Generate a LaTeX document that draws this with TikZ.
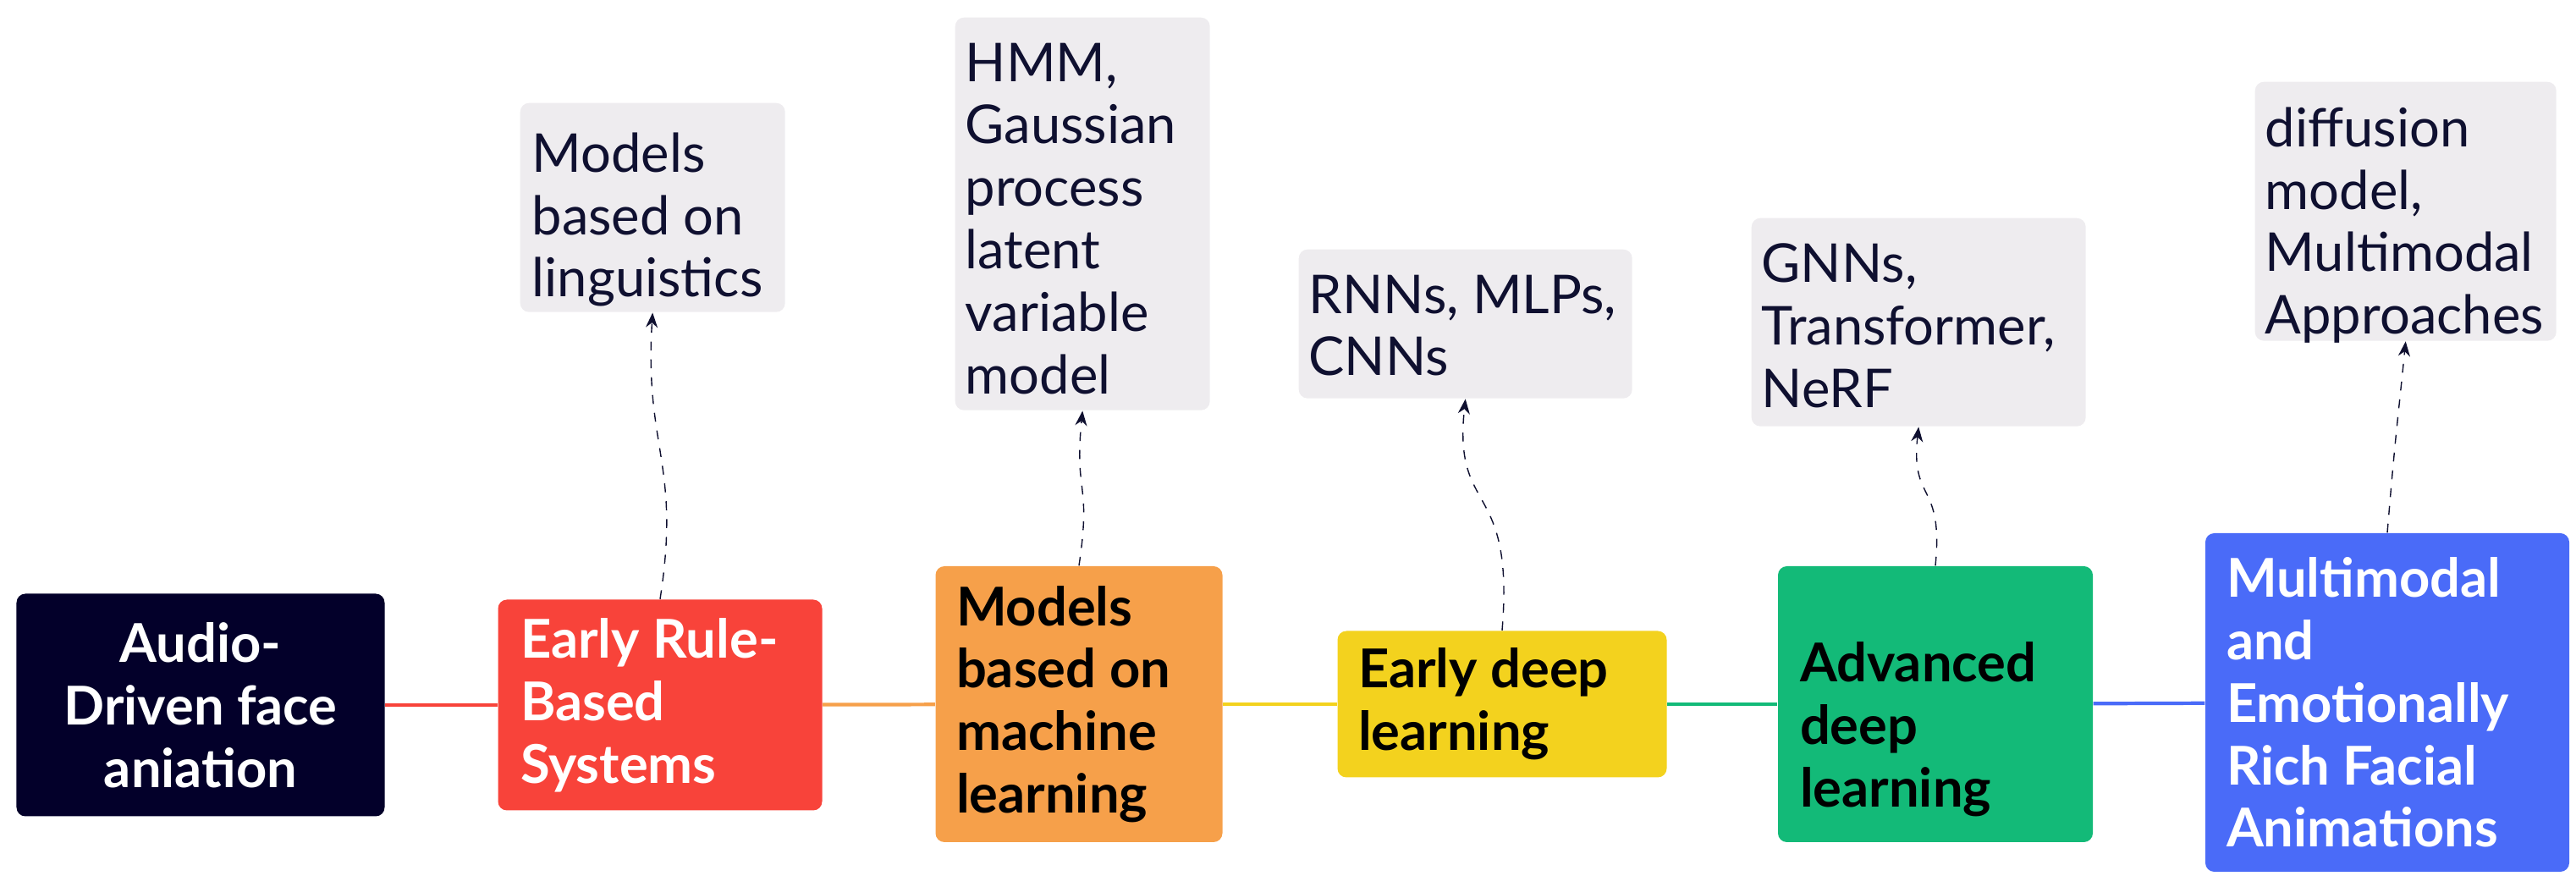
\documentclass[tikz,border=0pt]{standalone}
\usepackage{fontspec}
\setmainfont{Lato}
\usetikzlibrary{arrows.meta,positioning}
\definecolor{navy}{HTML}{03002A}
\definecolor{rulered}{HTML}{F8433A}
\definecolor{mlorange}{HTML}{F6A04A}
\definecolor{dlyellow}{HTML}{F3D21E}
\definecolor{advgreen}{HTML}{13BA78}
\definecolor{mmblue}{HTML}{4A6BF8}
\definecolor{notegray}{HTML}{EEECEF}
\definecolor{inkdark}{HTML}{0F1030}

\begin{document}
\begin{tikzpicture}[x=1cm,y=1cm,
	stage/.style={rectangle,rounded corners=3pt,align=flush left,inner sep=0pt,
		font=\fontsize{18}{21}\selectfont\bfseries},
	note/.style={rectangle,rounded corners=3pt,fill=notegray,inner sep=0pt,anchor=north west},
	notetext/.style={anchor=north west,text=inkdark,inner sep=0pt,align=flush left,
		font=\fontsize{18}{21}\selectfont},
	link/.style={line width=1.2pt},
	hint/.style={-{Stealth[length=5pt,width=4pt]},dashed,thin,draw=inkdark}]
	\useasboundingbox (0,0) rectangle (30.44,10.48);
	
	\node[stage,fill=navy,text=white,align=center,minimum width=4.35cm,minimum height=2.63cm] (start) at (2.37,2.15) {Audio-\\Driven face\\aniation};
	\node[stage,fill=rulered,text=white,minimum width=3.83cm,minimum height=2.49cm,text width=3.3cm] (rule) at (7.80,2.15) {Early Rule-\\Based\\Systems};
	\node[stage,fill=mlorange,text=black,minimum width=3.39cm,minimum height=3.26cm,text width=2.9cm] (ml) at (12.75,2.16) {Models\\based on\\machine\\learning};
	\node[stage,fill=dlyellow,text=black,minimum width=3.89cm,minimum height=1.73cm,text width=3.4cm] (early) at (17.75,2.16) {Early deep\\learning};
	\node[stage,fill=advgreen,text=black,minimum width=3.72cm,minimum height=3.26cm,text width=3.2cm,text depth=1.0cm] (adv) at (22.87,2.16) {Advanced\\deep\\learning};
	\node[stage,fill=mmblue,text=white,minimum width=4.30cm,minimum height=4.00cm,text width=3.8cm] (multi) at (28.21,2.18) {Multimodal\\and\\Emotionally\\Rich Facial\\Animations};
	
	\node[note,minimum width=3.13cm,minimum height=2.47cm] (n1) at (6.14,9.27) {};
	\node[notetext] (t1) at (6.28,8.92) {Models\\based on\\linguistics};
	\node[note,minimum width=3.01cm,minimum height=4.64cm] (n2) at (11.28,10.28) {};
	\node[notetext] (t2) at (11.40,9.98) {HMM,\\Gaussian\\process\\latent\\variable\\model};
	\node[note,minimum width=3.94cm,minimum height=1.76cm] (n3) at (15.34,7.54) {};
	\node[notetext] (t3) at (15.46,7.24) {RNNs, MLPs,\\CNNs};
	\node[note,minimum width=3.95cm,minimum height=2.46cm] (n4) at (20.69,7.91) {};
	\node[notetext] (t4) at (20.81,7.61) {GNNs,\\Transformer,\\NeRF};
	\node[note,minimum width=3.56cm,minimum height=3.06cm] (n5) at (26.64,9.52) {};
	\node[notetext] (t5) at (26.76,9.22) {diffusion\\model,\\Multimodal\\Approaches};
	
	% timeline
	\draw[link,rulered] (start) -- (rule);
	\draw[link,mlorange] (rule) -- (ml);
	\draw[link,dlyellow] (ml) -- (early);
	\draw[link,advgreen] (early) -- (adv);
	\draw[link,mmblue] (adv) -- (multi);
	
	% dashed hints
	\draw[hint] (rule.north) .. controls +(0.25,1.6) and +(-0.1,-1.6) .. (n1.south);
	\draw[hint] (ml.north) .. controls +(0.15,1.0) and +(-0.1,-1.0) .. (n2.south);
	\draw[hint] (early.north) .. controls +(0.15,1.8) and +(-0.15,-1.4) .. (n3.south);
	\draw[hint] (adv.north) .. controls +(0.1,1.0) and +(-0.1,-0.9) .. (n4.south);
	\draw[hint] (multi.north) .. controls +(0.1,1.2) and +(-0.1,-1.0) .. (n5.south);
\end{tikzpicture}
\end{document}
